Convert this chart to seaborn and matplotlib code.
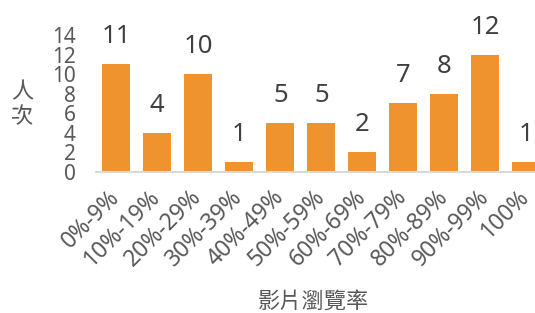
import matplotlib
matplotlib.use("Agg")
import matplotlib.pyplot as plt
import seaborn as sns

# dados
categorias = ["0%-9%", "10%-19%", "20%-29%", "30%-39%", "40%-49%", "50%-59%",
              "60%-69%", "70%-79%", "80%-89%", "90%-99%", "100%"]
valores = [11, 4, 10, 1, 5, 5, 2, 7, 8, 12, 1]
yticks = [0, 2, 4, 6, 8, 10, 12, 14]

cor_barra = "#EE932E"
cinza = "#595959"

sns.set_style("white")
plt.rcParams["font.family"] = ["Noto Sans", "Noto Sans CJK TC", "DejaVu Sans"]

fig = plt.figure(figsize=(5.35, 3.13), dpi=100)
ax = fig.add_axes([0.179, 0.452, 0.843, 0.436])

sns.barplot(x=categorias, y=valores, color=cor_barra, saturation=1,
            width=0.675, edgecolor="none", ax=ax)

# rótulos de dados acima das barras
for i, v in enumerate(valores):
    ax.annotate(str(v), (i, v), xytext=(0, 15), textcoords="offset points",
                ha="center", va="baseline", fontsize=18.5, color="#404040")

ax.set_ylim(0, 14)
ax.set_xlim(-0.5, len(categorias) - 0.5)
ax.set_yticks(yticks)
ax.tick_params(axis="y", length=0, pad=14.5, labelsize=15, labelcolor=cinza)
ax.tick_params(axis="x", length=0, pad=16, labelsize=16.5, labelcolor=cinza)
for lbl in ax.get_xticklabels():
    lbl.set_rotation(45)
    lbl.set_ha("right")
    lbl.set_va("center")
    lbl.set_rotation_mode("anchor")

for s in ["top", "right", "left"]:
    ax.spines[s].set_visible(False)
ax.spines["bottom"].set_color("#D9D9D9")
ax.spines["bottom"].set_linewidth(1.5)

ax.set_ylabel("人\n次", rotation=0, fontsize=16, color=cinza, ha="center",
              va="center", linespacing=1.1, family="Noto Sans CJK TC")
ax.yaxis.set_label_coords(-0.163, 0.49)
ax.set_xlabel("影片瀏覽率", fontsize=16, color=cinza, va="center",
              family="Noto Sans CJK TC")
ax.xaxis.set_label_coords(0.482, -0.95)

fig.savefig("out.png", dpi=100)
